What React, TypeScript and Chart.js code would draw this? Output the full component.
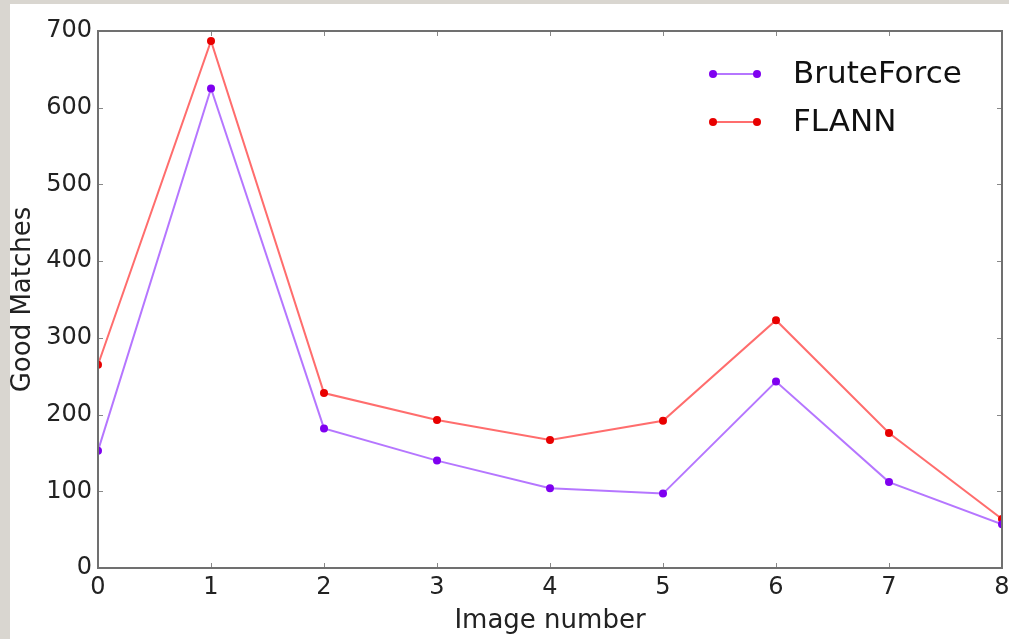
import React, { useEffect, useRef } from "react";
import { Chart, registerables } from "chart.js";
Chart.register(...registerables);

const imageNumbers = [0, 1, 2, 3, 4, 5, 6, 7, 8];
const bruteForce = [153, 625, 182, 140, 104, 97, 243, 112, 57];
const flann = [265, 687, 228, 193, 167, 192, 323, 176, 64];
const seriesNames = ["BruteForce", "FLANN"];
const yMin = 0;
const yMax = 700;
const yStep = 100;
const xTitle = "Image number";
const yTitle = "Good Matches";

const FONT = "'DejaVu Sans', sans-serif";

const framePlugin = {
  id: "frameTicks",
  afterDatasetsDraw(chart: any) {
    const { ctx, chartArea, scales } = chart;
    const { left, right, top, bottom } = chartArea;
    ctx.save();
    const tl = 5;
    ctx.strokeStyle = "#888";
    ctx.lineWidth = 1;
    ctx.beginPath();
    for (const t of scales.x.ticks) {
      const px = Math.round(scales.x.getPixelForValue(t.value)) + 0.5;
      ctx.moveTo(px, bottom);
      ctx.lineTo(px, bottom - tl);
      ctx.moveTo(px, top);
      ctx.lineTo(px, top + tl);
    }
    for (const t of scales.y.ticks) {
      const py = Math.round(scales.y.getPixelForValue(t.value)) + 0.5;
      ctx.moveTo(left, py);
      ctx.lineTo(left + tl, py);
      ctx.moveTo(right, py);
      ctx.lineTo(right - tl, py);
    }
    ctx.stroke();
    ctx.strokeStyle = "#707070";
    ctx.lineWidth = 2;
    ctx.strokeRect(left, top, right - left, bottom - top);
    ctx.restore();
  },
  afterDraw(chart: any) {
    const { ctx, chartArea } = chart;
    ctx.save();
    const x0 = chartArea.right - 289;
    const x1 = chartArea.right - 245;
    const tx = chartArea.right - 209;
    const ys = [chartArea.top + 43, chartArea.top + 91];
    chart.data.datasets.forEach((ds: any, i: number) => {
      const y = ys[i];
      ctx.strokeStyle = ds.borderColor;
      ctx.lineWidth = ds.borderWidth;
      ctx.beginPath();
      ctx.moveTo(x0, y);
      ctx.lineTo(x1, y);
      ctx.stroke();
      ctx.fillStyle = ds.pointBackgroundColor;
      for (const x of [x0, x1]) {
        ctx.beginPath();
        ctx.arc(x, y, 4, 0, Math.PI * 2);
        ctx.fill();
      }
      ctx.fillStyle = "#111";
      ctx.font = `31px ${FONT}`;
      ctx.textBaseline = "middle";
      ctx.textAlign = "left";
      ctx.fillText(ds.label, tx, y + 1);
    });
    ctx.restore();
  },
};

export default function App() {
  const ref = useRef<HTMLCanvasElement | null>(null);
  useEffect(() => {
    if (!ref.current) return;
    const chart = new Chart(ref.current, {
      type: "scatter",
      data: {
        datasets: [
          {
            label: seriesNames[0],
            data: imageNumbers.map((x, i) => ({ x, y: bruteForce[i] })),
            showLine: true,
            borderColor: "rgba(150, 60, 255, 0.7)",
            borderWidth: 2,
            pointBackgroundColor: "#7f00f0",
            pointBorderColor: "#7f00f0",
            pointRadius: 4,
            pointBorderWidth: 0,
            clip: 0,
          },
          {
            label: seriesNames[1],
            data: imageNumbers.map((x, i) => ({ x, y: flann[i] })),
            showLine: true,
            borderColor: "rgba(255, 60, 60, 0.75)",
            borderWidth: 2,
            pointBackgroundColor: "#e80000",
            pointBorderColor: "#e80000",
            pointRadius: 4,
            pointBorderWidth: 0,
            clip: 0,
          },
        ],
      },
      options: {
        responsive: false,
        animation: false,
        layout: { padding: { left: 0, top: 27, right: 7, bottom: 0 } },
        plugins: { legend: { display: false }, tooltip: { enabled: false } },
        scales: {
          x: {
            type: "linear",
            min: imageNumbers[0],
            max: imageNumbers[imageNumbers.length - 1],
            grid: { display: false, drawTicks: false, tickLength: 0 },
            border: { display: false },
            ticks: {
              stepSize: 1,
              padding: 5,
              color: "#222",
              font: { family: FONT, size: 24 },
              maxRotation: 0,
              callback: (v: any) => String(v),
            },
            title: {
              display: true,
              text: xTitle,
              color: "#222",
              font: { family: FONT, size: 26, lineHeight: 1.2 },
              padding: { top: 0, bottom: 2 },
            },
            afterFit: (s: any) => {
              s.height = 71;
              s.paddingLeft = 0;
              s.paddingRight = 0;
            },
          },
          y: {
            min: yMin,
            max: yMax,
            grid: { display: false, drawTicks: false, tickLength: 0 },
            border: { display: false },
            ticks: {
              stepSize: yStep,
              padding: 6,
              color: "#222",
              font: { family: FONT, size: 24 },
            },
            title: {
              display: true,
              text: yTitle,
              color: "#222",
              font: { family: FONT, size: 26, lineHeight: 1.0 },
              padding: { top: 0, bottom: 0 },
            },
            afterFit: (s: any) => {
              s.width = 88;
            },
          },
        },
      },
      plugins: [framePlugin],
    });
    return () => chart.destroy();
  }, []);

  return (
    <div
      style={{
        position: "fixed",
        left: 0,
        top: 0,
        width: 1009,
        height: 639,
        background: "#d9d6d0",
        overflow: "hidden",
      }}
    >
      <div
        style={{
          position: "absolute",
          left: 10,
          top: 4,
          width: 999,
          height: 635,
          background: "#ffffff",
        }}
      >
        <canvas ref={ref} width={999} height={635} style={{ display: "block" }} />
      </div>
    </div>
  );
}
